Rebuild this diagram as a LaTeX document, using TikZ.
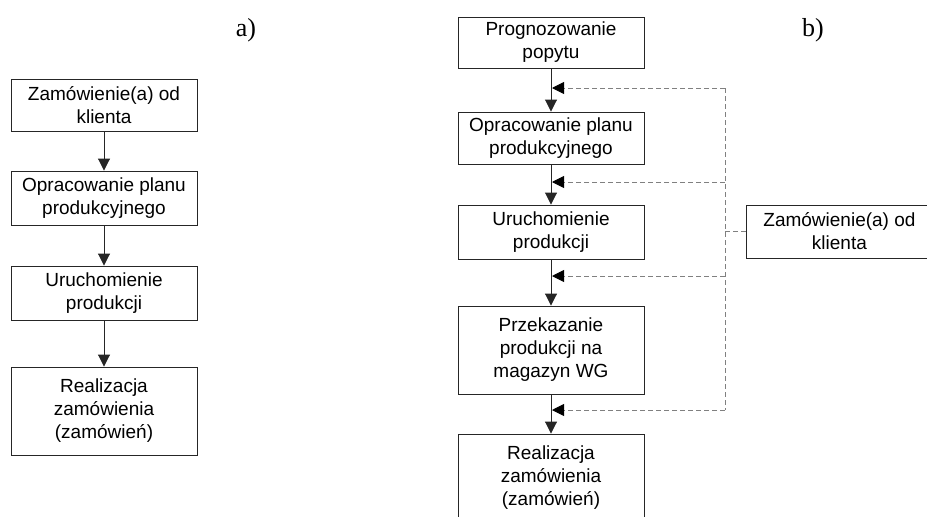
\documentclass[tikz,border=0pt]{standalone}
\usepackage{fontspec}
\setmainfont{Liberation Sans}
\newfontfamily\labelserif{Liberation Serif}
\usetikzlibrary{arrows.meta}
\begin{document}
\begin{tikzpicture}[x=1pt,y=-1pt,
  box/.style={draw=black!85, line width=0.9pt, minimum width=186pt, inner sep=0pt,
    align=center, font=\fontsize{19}{23}\selectfont},
  flow/.style={draw=black!85, line width=0.9pt, -{Triangle[width=12pt,length=12pt]}},
  fb/.style={draw=black!50, line width=0.9pt, dash pattern=on 5pt off 3pt},
  fbarrow/.style={fb, -{Triangle[width=12pt,length=12pt,color=black]}},
  tag/.style={font=\labelserif\fontsize{26}{30}\selectfont, inner sep=0pt}]
\useasboundingbox (0,0) rectangle (927,517);
% ---- a)
\node[tag] (ta) at (246,30) {a)};
\node[box, minimum height=52pt] (a1) at (104,105) {Zamówienie(a) od\\klienta};
\node[box, minimum height=54pt] (a2) at (104,198) {Opracowanie planu\\produkcyjnego};
\node[box, minimum height=54pt] (a3) at (104,293) {Uruchomienie\\produkcji};
\node[box, minimum height=88pt] (a4) at (104,411) {Realizacja\\zamówienia\\(zamówień)};
\draw[flow] (a1) -- (a2);
\draw[flow] (a2) -- (a3);
\draw[flow] (a3) -- (a4);
% ---- b)
\node[tag] (tb) at (813,30) {b)};
\node[box, minimum height=51pt] (b1) at (551,42.5) {Prognozowanie\\popytu};
\node[box, minimum height=52pt] (b2) at (551,138) {Opracowanie planu\\produkcyjnego};
\node[box, minimum height=54pt] (b3) at (551,232) {Uruchomienie\\produkcji};
\node[box, minimum height=88pt] (b4) at (551,350) {Przekazanie\\produkcji na\\magazyn WG};
\node[box, minimum height=88pt] (b5) at (551,478) {Realizacja\\zamówienia\\(zamówień)};
\node[box, minimum height=53pt, anchor=west] (zk) at (746,231.5) {Zamówienie(a) od\\klienta};
\draw[flow] (b1) -- (b2);
\draw[flow] (b2) -- (b3);
\draw[flow] (b3) -- (b4);
\draw[flow] (b4) -- (b5);
% feedback
\coordinate (v1) at (725,88);
\coordinate (v2) at (725,182);
\coordinate (v3) at (725,276);
\coordinate (v4) at (725,410);
\coordinate (vz) at (725,231.5);
\coordinate (h1) at (552,88);
\coordinate (h2) at (552,182);
\coordinate (h3) at (552,276);
\coordinate (h4) at (552,410);
\draw[fb] (v1) -- (v4);
\draw[fb] (vz) -- (zk.west);
\draw[fbarrow] (v1) -- (h1);
\draw[fbarrow] (v2) -- (h2);
\draw[fbarrow] (v3) -- (h3);
\draw[fbarrow] (v4) -- (h4);
\end{tikzpicture}
\end{document}
